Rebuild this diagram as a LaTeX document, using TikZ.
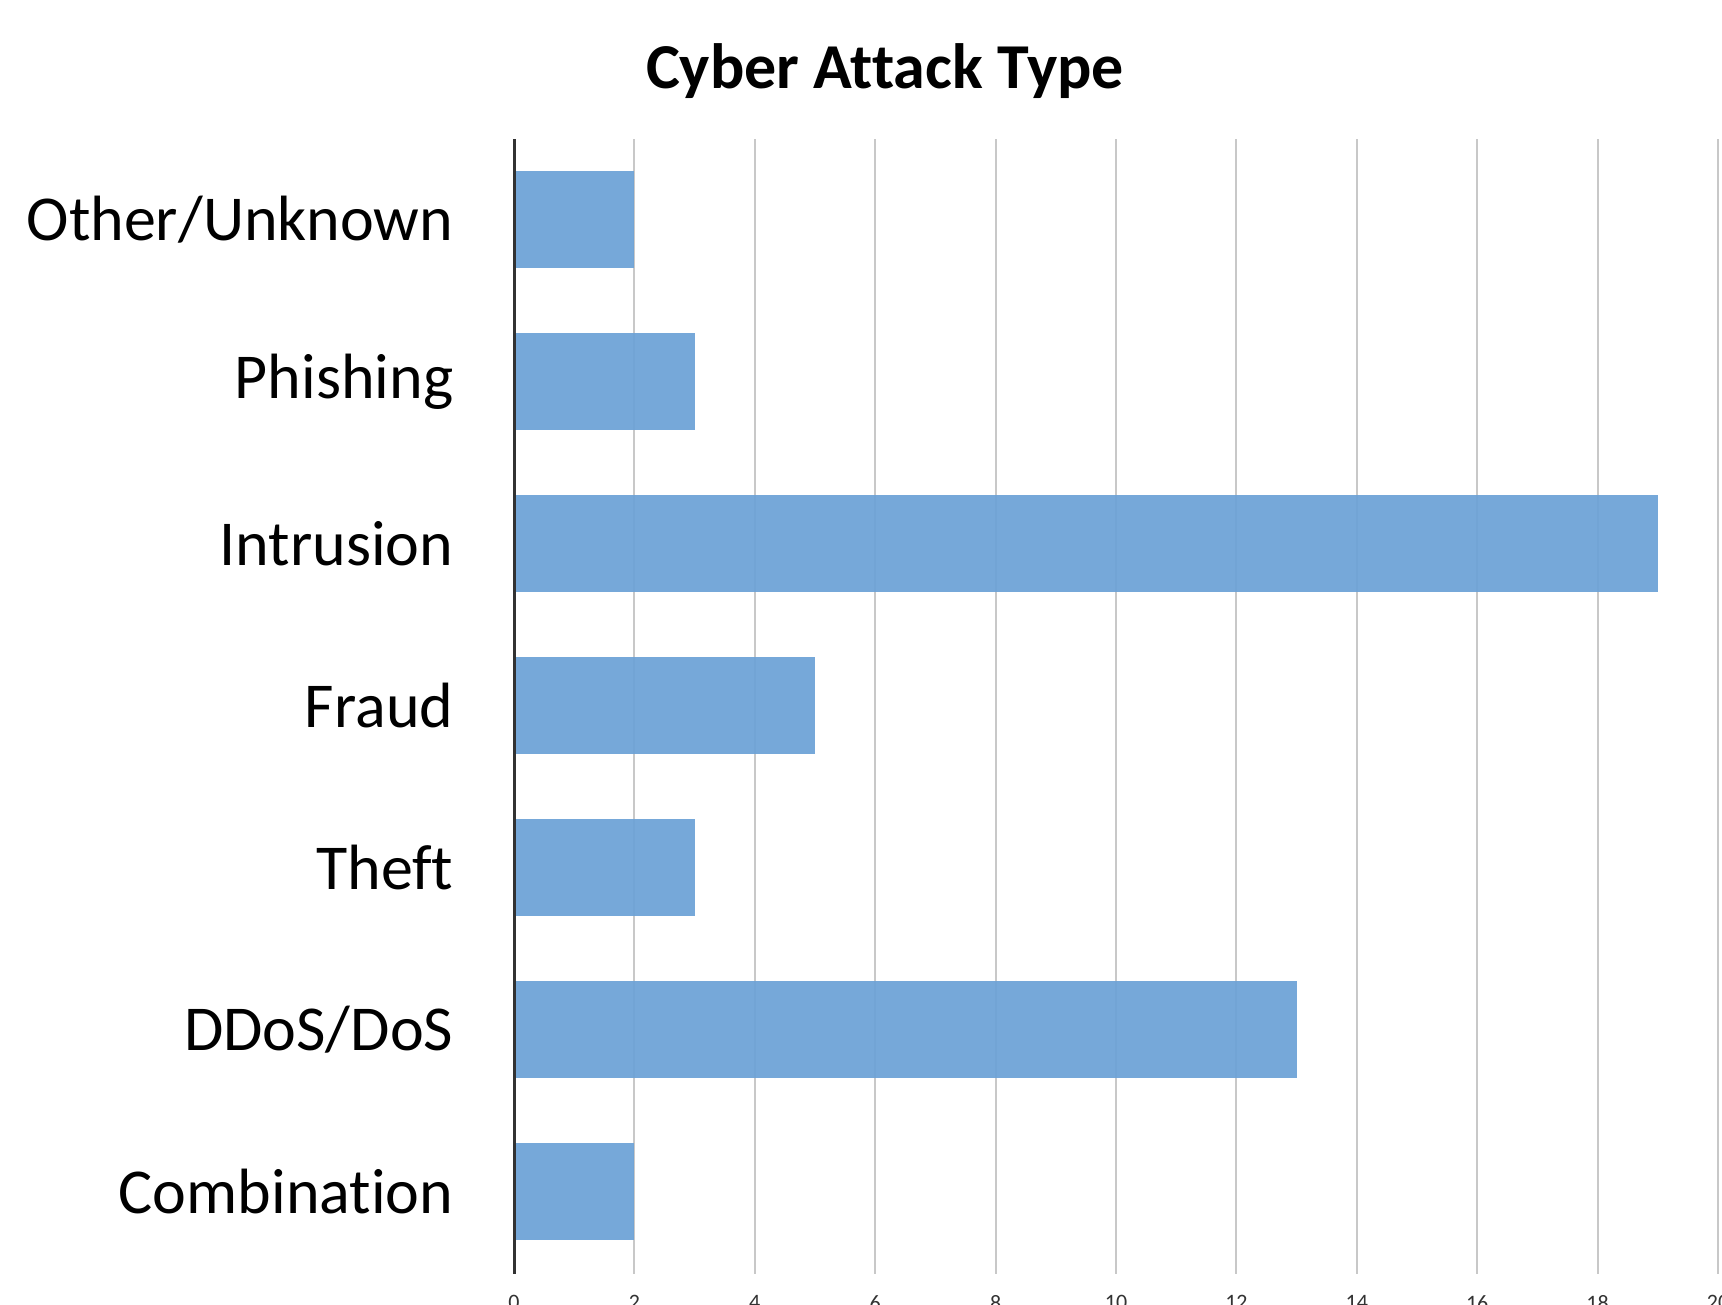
\documentclass[tikz,border=0pt]{standalone}
\usepackage{fontspec}
\setmainfont[Ligatures=NoCommon]{Carlito}
\definecolor{barblue}{RGB}{108,162,215}
\definecolor{gridgray}{RGB}{200,200,200}
\definecolor{axisgray}{RGB}{50,50,50}
\begin{document}
\begin{tikzpicture}[x=1pt,y=-1pt,
  catlabel/.style={anchor=east,inner sep=0pt,font=\fontsize{64}{76}\selectfont},
  ticklabel/.style={anchor=north,inner sep=0pt,font=\fontsize{22}{26}\selectfont, text=black!80},
  bar/.style={fill=barblue,fill opacity=0.93,draw=none},
  gridline/.style={draw=gridgray,line width=2pt},
  axisline/.style={draw=axisgray,line width=3pt}]
\useasboundingbox[fill=white] (0,0) rectangle (1722,1305);
% gridlines
\foreach \k in {1,...,10}{
  \draw[gridline] ({514+\k*120.4},139.5) -- ({514+\k*120.4},1274);
}
% bars
\foreach \v/\i in {2/0,3/1,19/2,5/3,3/4,13/5,2/6}{
  \fill[bar] (514,{171.3+\i*162}) rectangle ({514+\v*60.2},{267.9+\i*162});
}
% axis
\draw[axisline] (514,139.5) -- (514,1274);
% category labels
\node[catlabel] (c0) at (453.5,219.6) {Other/Unknown};
\node[catlabel] (c1) at (453.5,381.6) {Phishing};
\node[catlabel] (c2) at (453.5,543.6) {Intrusion};
\node[catlabel] (c3) at (453.5,705.6) {Fraud};
\node[catlabel] (c4) at (453.5,867.6) {Theft};
\node[catlabel] (c5) at (453.5,1029.6) {DDoS/DoS};
\node[catlabel] (c6) at (453.5,1191.6) {Combination};
% tick labels
\foreach \k in {0,...,10}{
  \pgfmathtruncatemacro{\lab}{2*\k}
  \node[ticklabel] (t\k) at ({514+\k*120.4},1295) {\lab};
}
% title
\node[font=\fontsize{64}{76}\selectfont\bfseries,inner sep=0pt] (title) at (885,71) {Cyber Attack Type};
\end{tikzpicture}
\end{document}
